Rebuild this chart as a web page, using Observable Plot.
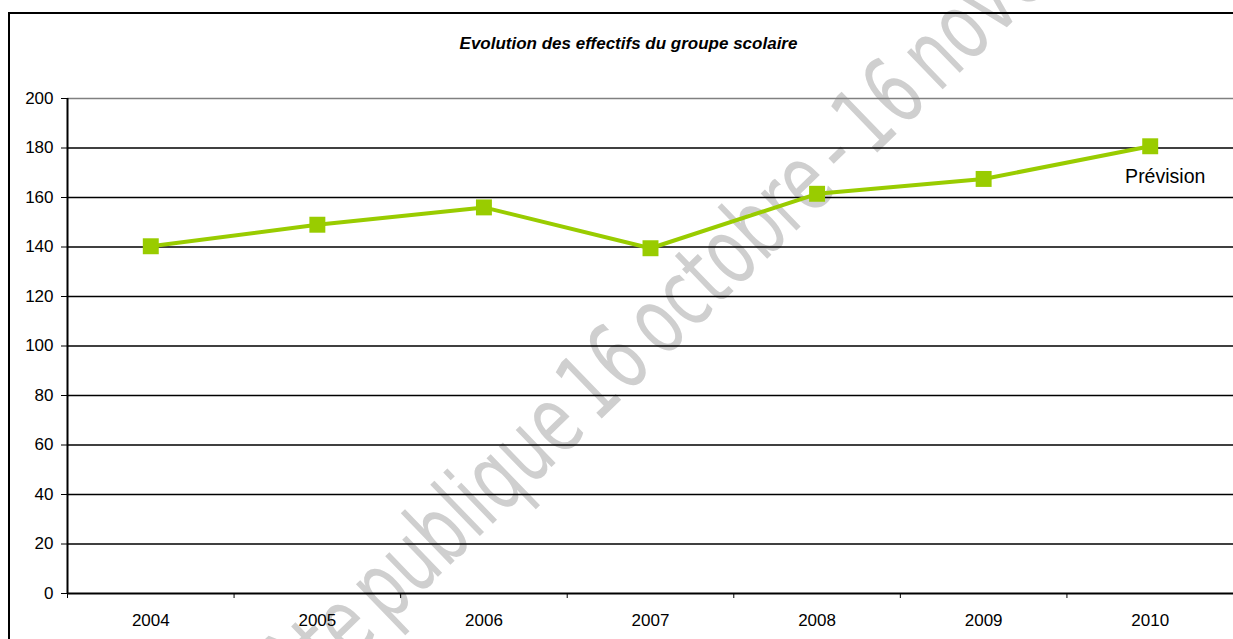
<!DOCTYPE html>
<html><head><meta charset="utf-8">
<script src="https://cdn.jsdelivr.net/npm/d3@7"></script>
<script src="https://cdn.jsdelivr.net/npm/@observablehq/plot@0.6"></script>
<style>
html,body{margin:0;padding:0;background:#fff;overflow:hidden}
#wrap{position:relative;width:1233px;height:639px;overflow:hidden}
#deco{position:absolute;left:0;top:0}
#frame{position:absolute;left:8px;top:12px;width:1400px;height:800px;border-left:2px solid #000;border-top:2px solid #000}
#chart{position:absolute;left:0;top:0}
</style></head><body>
<div id="wrap"><svg id="deco" width="1233" height="639"></svg><div id="frame"></div><div id="chart"></div></div>
<script>
const title = "Evolution des effectifs du groupe scolaire";
const years = [2004, 2005, 2006, 2007, 2008, 2009, 2010];
const effectifs = [140.3, 149, 156, 139.5, 161.5, 167.5, 180.7];
const annotationYear = 2010;
const annotationText = "Prévision";
const yTicks = [0, 20, 40, 60, 80, 100, 120, 140, 160, 180, 200];
const watermarkStart = "enquête publique";
const watermarkEnd = "16 octobre - 16 novembre";

const FONT = "'Liberation Sans', Arial, sans-serif";
const data = years.map((y, i) => ({year: y, value: effectifs[i]}));
const boundaries = [...years.map(y => y - 0.5), years[years.length - 1] + 0.5];

// decoration: title, watermark
const deco = d3.select("#deco");
const wm = deco.append("g")
  .attr("transform", "translate(596,424) rotate(-44) scale(0.76,1)")
  .attr("fill", "#cfcfcf")
  .style("font-family", "'DejaVu Sans Condensed', 'Liberation Sans Narrow', sans-serif")
  .style("font-stretch", "condensed")
  .style("word-spacing", "-12px")
  .style("font-size", "94px");
wm.append("text").attr("x", -14).attr("text-anchor", "end").text(watermarkStart);
wm.append("text").attr("x", 0).attr("text-anchor", "start").text(watermarkEnd);
deco.append("text").attr("x", 628.5).attr("y", 49).attr("text-anchor", "middle")
  .style("font-family", FONT).style("font-size", "17px").style("font-weight", "bold").style("font-style", "italic")
  .text(title);

const plot = Plot.plot({
  width: 1233, height: 639,
  marginLeft: 67, marginRight: 0, marginTop: 98, marginBottom: 46,
  style: {background: "transparent", fontFamily: FONT, fontSize: "17px", color: "#000"},
  x: {type: "linear", domain: [years[0] - 0.5, years[years.length - 1] + 0.5]},
  y: {domain: [0, 200]},
  marks: [
    Plot.ruleY(yTicks.filter(t => t > 0 && t < 200), {stroke: "#000", strokeWidth: 1.3}),
    Plot.ruleY([200], {stroke: "#808080", strokeWidth: 1.3}),
    Plot.axisY({ticks: yTicks, tickSize: 6, tickPadding: 8, tickFormat: d => String(d), strokeOpacity: 1, fontSize: 17, label: null}),
    Plot.axisX({ticks: boundaries.slice(0, -1), tickSize: 5, tickFormat: () => "", strokeOpacity: 1, label: null}),
    Plot.axisX({ticks: years, tickSize: 0, tickPadding: 20, tickFormat: d => String(d), fontSize: 17, label: null}),
    Plot.ruleX([years[0] - 0.5], {stroke: "#000", strokeWidth: 2}),
    Plot.ruleY([0], {stroke: "#000", strokeWidth: 2.2}),
    Plot.line(data, {x: "year", y: "value", stroke: "#99cc00", strokeWidth: 4}),
    Plot.dot(data, {x: "year", y: "value", symbol: "square", r: 9, fill: "#99cc00", stroke: "none"}),
    Plot.text(data.filter(d => d.year === annotationYear), {x: "year", y: "value", text: () => annotationText, dx: 15, dy: 30, fontSize: 19.5, fill: "#000"})
  ]
});
document.getElementById("chart").appendChild(plot);
</script>
</body></html>
